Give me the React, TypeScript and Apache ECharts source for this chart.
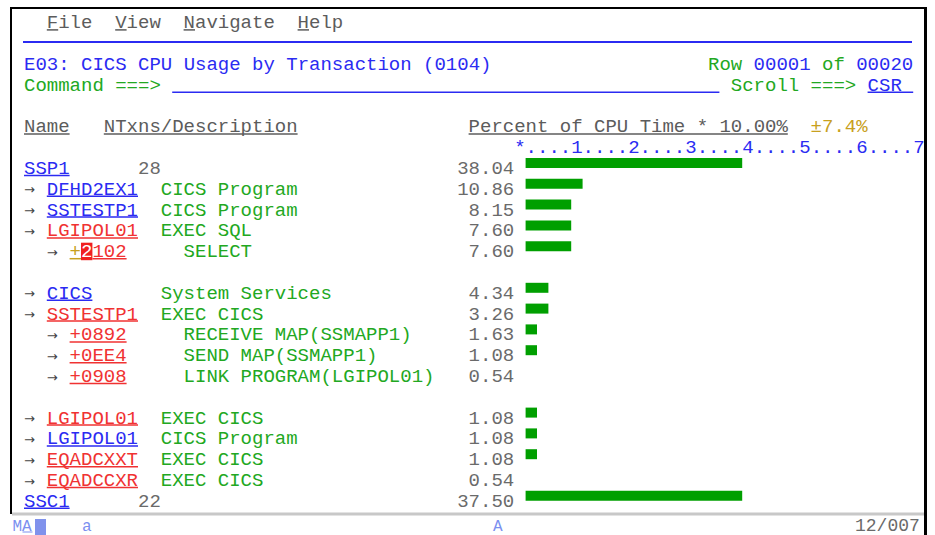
import React, { useEffect, useRef } from "react";
import * as echarts from "echarts";

// ---- data ----
const rowNames = ["SSP1", "DFHD2EX1", "SSTESTP1", "LGIPOL01", "+2102", "", "CICS", "SSTESTP1", "+0892", "+0EE4", "+0908", "", "LGIPOL01", "LGIPOL01", "EQADCXXT", "EQADCCXR", "SSC1"];
const rowLevels = [0, 1, 1, 1, 2, -1, 1, 1, 2, 2, 2, -1, 1, 1, 1, 1, 0];
const rowDescriptions = ["28", "CICS Program", "CICS Program", "EXEC SQL", "SELECT", "", "System Services", "EXEC CICS", "RECEIVE MAP(SSMAPP1)", "SEND MAP(SSMAPP1)", "LINK PROGRAM(LGIPOL01)", "", "EXEC CICS", "CICS Program", "EXEC CICS", "EXEC CICS", "22"];
const rowNameKinds = ["b", "b", "b", "r", "r", "", "b", "r", "r", "r", "r", "", "r", "b", "r", "r", "b"];
const cpuPercent: (number | null)[] = [38.04, 10.86, 8.15, 7.6, 7.6, null, 4.34, 3.26, 1.63, 1.08, 0.54, null, 1.08, 1.08, 1.08, 0.54, 37.5];
const scaleText = "*....1....2....3....4....5....6....7";
const cursorRow = 4;

// ---- layout constants ----
const CW = 11.4;
const X0 = 24;
const ROW0 = 21.9;
const RH = 20.8;
const TY = 1.5;
const FS = 19;
const FF = '"Liberation Mono", "DejaVu Sans Mono", monospace';
const BLUE = "#2b2bf2";
const GREEN = "#22a822";
const RED = "#f03232";
const GRAY = "#6a6a6a";
const HGRAY = "#5c5c5c";
const YEL = "#c8a020";
const LBLUE = "#7b8ff0";

const col = (c: number) => X0 + c * CW;
const rowY = (r: number) => ROW0 + r * RH;

function txt(text: string, c: number, r: number, fill: string, extra: any = {}) {
  return {
    type: "text",
    x: extra.x !== undefined ? extra.x : col(c),
    y: extra.y !== undefined ? extra.y : rowY(r) + TY,
    z: 10,
    style: {
      text,
      fill,
      fontSize: extra.fontSize || FS,
      fontFamily: extra.fontFamily || FF,
      verticalAlign: "middle",
      align: extra.align || "left",
    },
  };
}
function ul(c: number, len: number, r: number, color: string) {
  const y = rowY(r) + 8;
  return {
    type: "line",
    z: 10,
    shape: { x1: col(c), y1: y, x2: col(c + len), y2: y },
    style: { stroke: color, lineWidth: 1.5 },
  };
}

function buildGraphics() {
  const g: any[] = [];
  // menu
  const menu: [string, number][] = [["File", 2], ["View", 8], ["Navigate", 14], ["Help", 24]];
  menu.forEach(([w, c]) => {
    g.push(txt(w, c, 0, HGRAY));
    g.push(ul(c, 1, 0, HGRAY));
  });
  // separator
  g.push({ type: "line", z: 10, shape: { x1: 23, y1: 42, x2: 912, y2: 42 }, style: { stroke: BLUE, lineWidth: 2 } });
  // title row
  g.push(txt("E03: CICS CPU Usage by Transaction (0104)", 0, 2, BLUE));
  g.push(txt("Row", 60, 2, GREEN));
  g.push(txt("00001", 64, 2, BLUE));
  g.push(txt("of", 70, 2, GREEN));
  g.push(txt("00020", 73, 2, BLUE));
  // command row
  g.push(txt("Command ===>", 0, 3, GREEN));
  g.push(ul(13, 48, 3, BLUE));
  g.push(txt("Scroll ===>", 62, 3, GREEN));
  g.push(txt("CSR", 74, 3, BLUE));
  g.push(ul(74, 4, 3, BLUE));
  // header
  g.push(txt("Name", 0, 5, HGRAY));
  g.push(ul(0, 4, 5, HGRAY));
  g.push(txt("NTxns/Description", 7, 5, HGRAY));
  g.push(ul(7, 17, 5, HGRAY));
  g.push(txt("Percent of CPU Time * 10.00%", 39, 5, HGRAY));
  g.push(ul(39, 28, 5, HGRAY));
  g.push(txt("\u00b17.4%", 69, 5, YEL));
  // scale
  g.push(txt(scaleText, 43, 6, BLUE));
  // data rows
  rowNames.forEach((name, i) => {
    const r = 7 + i;
    const lvl = rowLevels[i];
    if (lvl < 0) return;
    const nameCol = lvl === 0 ? 0 : lvl === 1 ? 2 : 4;
    const descCol = lvl === 0 ? 10 : lvl === 1 ? 12 : 14;
    if (lvl > 0) {
      g.push(txt("\u2192", 0, r, "#444444", { x: col(nameCol - 2) + 5.5, align: "center", fontSize: 13, fontFamily: '"DejaVu Sans", sans-serif' }));
    }
    const nc = rowNameKinds[i] === "b" ? BLUE : RED;
    if (i === cursorRow) {
      g.push(txt(name[0], nameCol, r, YEL));
      g.push(ul(nameCol, 1, r, YEL));
      g.push({ type: "rect", z: 9, shape: { x: col(nameCol + 1), y: rowY(r) - 8, width: CW, height: 17.5 }, style: { fill: "#f02020" } });
      g.push(txt(name[1], nameCol + 1, r, "#ffffff"));
      g.push(txt(name.slice(2), nameCol + 2, r, RED));
      g.push(ul(nameCol + 2, name.length - 2, r, RED));
    } else {
      g.push(txt(name, nameCol, r, nc));
      g.push(ul(nameCol, name.length, r, nc));
    }
    g.push(txt(rowDescriptions[i], descCol, r, lvl === 0 ? GRAY : GREEN));
    const v = cpuPercent[i];
    if (v !== null) g.push(txt(v.toFixed(2), 43, r, GRAY, { align: "right" }));
  });
  // frame
  g.push({ type: "line", z: 12, shape: { x1: 10, y1: 8, x2: 927, y2: 8 }, style: { stroke: "#000", lineWidth: 2 } });
  g.push({ type: "line", z: 12, shape: { x1: 11, y1: 7, x2: 11, y2: 514 }, style: { stroke: "#000", lineWidth: 2 } });
  g.push({ type: "line", z: 12, shape: { x1: 12, y1: 514, x2: 924, y2: 514 }, style: { stroke: "#c8c8c8", lineWidth: 3 } });
  // status line
  g.push(txt("MA", 0, 0, LBLUE, { x: 12.5, y: 527, fontSize: 16 }));
  g.push({ type: "line", z: 10, shape: { x1: 22.5, y1: 532, x2: 32.5, y2: 532 }, style: { stroke: LBLUE, lineWidth: 1 } });
  g.push({ type: "rect", z: 10, shape: { x: 35, y: 519, width: 11, height: 16 }, style: { fill: "#8092ec" } });
  g.push(txt("a", 0, 0, LBLUE, { x: 82, y: 527, fontSize: 16 }));
  g.push(txt("A", 0, 0, LBLUE, { x: 493, y: 527, fontSize: 16 }));
  g.push(txt("12/007", 0, 0, GRAY, { x: 855, y: 526, fontSize: 18 }));
  g.push({ type: "line", z: 14, shape: { x1: 925.5, y1: 7, x2: 925.5, y2: 535 }, style: { stroke: "#000", lineWidth: 3 } });
  return g;
}

export default function App() {
  const ref = useRef<HTMLDivElement>(null);
  useEffect(() => {
    if (!ref.current) return;
    const chart = echarts.init(ref.current, null, { renderer: "svg" });
    const barValues = cpuPercent.map((v) => (v === null ? null : Math.round(v / 2) * 2));
    const gridTop = rowY(7) - 4.5 - RH / 2;
    chart.setOption({
      animation: false,
      backgroundColor: "#ffffff",
      grid: { left: col(44), top: gridTop, width: 70 * (CW / 2), height: rowNames.length * RH },
      xAxis: { type: "value", min: 0, max: 70, show: false },
      yAxis: { type: "category", data: rowNames.map((_, i) => String(i)), inverse: true, show: false },
      series: [
        {
          type: "bar",
          data: barValues,
          barWidth: 10,
          silent: true,
          itemStyle: { color: "#009f00" },
        },
      ],
      graphic: buildGraphics(),
    });
    return () => chart.dispose();
  }, []);
  return <div ref={ref} style={{ position: "absolute", left: 0, top: 0, width: 935, height: 535 }} />;
}
